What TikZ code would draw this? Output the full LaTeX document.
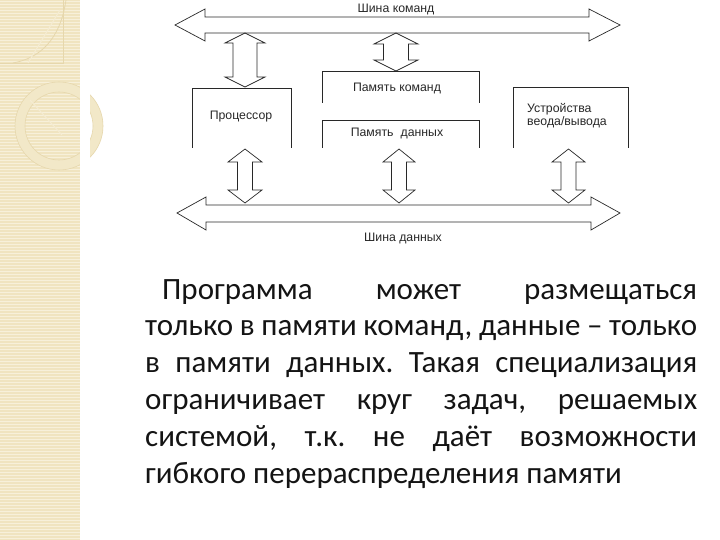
\documentclass[tikz,border=0pt]{standalone}
\usepackage{fontspec}
\setmainfont{Carlito}
\newfontfamily\arialf{Liberation Sans}
\frenchspacing
\definecolor{strip}{RGB}{240,228,192}
\definecolor{stripline}{RGB}{247,240,218}
\definecolor{ringc}{RGB}{230,215,172}
\definecolor{ink}{RGB}{40,40,40}
\definecolor{txt}{RGB}{20,20,20}
\newcommand\vdarrow[6]{%
  \pgfmathsetmacro\ax{#1+#5}\pgfmathsetmacro\bx{#1+#4}%
  \pgfmathsetmacro\cx{#1-#4}\pgfmathsetmacro\dx{#1-#5}%
  \pgfmathsetmacro\ty{#2+#6}\pgfmathsetmacro\by{#3-#6}%
  \draw[blk] (#1,#2) -- (\ax,\ty) -- (\bx,\ty) -- (\bx,\by) -- (\ax,\by) -- (#1,#3)
    -- (\dx,\by) -- (\cx,\by) -- (\cx,\ty) -- (\dx,\ty) -- cycle;}
\tikzset{
  blk/.style={draw=ink, line width=0.7pt, line join=miter},
  boxline/.style={draw=ink, line width=0.7pt},
  lbl/.style={text=ink, inner sep=0pt, font=\arialf\fontsize{12.3}{14.5}\selectfont},
  pline/.style={anchor=base west, inner sep=0pt, text=txt, font=\fontsize{31}{37}\selectfont},
}
\begin{document}
\begin{tikzpicture}[x=1pt,y=-1pt]
\useasboundingbox (0,0) rectangle (720,540);
\fill[white] (0,0) rectangle (720,540);
% decorative strip
\fill[strip] (0,0) rectangle (80,540);
\foreach \yy in {1.5,4.5,...,540} \draw[stripline, line width=0.7pt] (0,\yy) -- (80,\yy);
\draw[ringc, line width=0.6pt] (0,63) -- (63,63) -- (63,0);
\draw[ringc, line width=0.8pt] (66,0) .. controls (60,40) and (40,58) .. (13,63);
\draw[stripline!70!strip, line width=1pt] (28,63) -- (60,10);
\fill[stripline!30!strip, even odd rule] (59,126) circle (44) (59,126) circle (34);
\draw[ringc, line width=0.6pt] (59,126) circle (44) (59,126) circle (34);
\draw[stripline!70!strip, line width=1pt] (30,100) -- (62,135);
\fill[white] (80,0) rectangle (90,540);

% buses
\draw[blk] (175,25) -- (205,9) -- (205,17) -- (589,17) -- (589,9) -- (620,25) -- (589,41) -- (589,33) -- (205,33) -- (205,41) -- cycle;
\draw[blk] (177,213) -- (206,197) -- (206,205) -- (591,205) -- (591,197) -- (620,213) -- (591,230) -- (591,222) -- (206,222) -- (206,230) -- cycle;

% vertical double arrows
\vdarrow{245}{33}{87}{12}{20}{10}
\vdarrow{396}{33}{71}{12.5}{22}{11}
\vdarrow{245}{149}{203}{7.5}{17}{13}
\vdarrow{399}{149}{203}{7.5}{16}{13}
\vdarrow{568.5}{149}{203}{7.5}{16.5}{13}

% open boxes
\draw[boxline] (192,148) -- (192,88) -- (291,88) -- (291,148);
\draw[boxline] (322,103) -- (322,71) -- (479,71) -- (479,103);
\draw[boxline] (322,148) -- (322,120) -- (479,120) -- (479,148);
\draw[boxline] (513,148) -- (513,87) -- (628,87) -- (628,148);

% labels
\node[lbl] (cbus) at (396,9) {Шина команд};
\node[lbl] (cpu) at (241,117) {Процессор};
\node[lbl] (imem) at (397,88) {Память команд};
\node[lbl] (dmem) at (397,133) {Память\hspace{7pt}данных};
\node[lbl, anchor=west, align=left] (io) at (527,116) {Устройства\\[-1.5pt]веода/вывода};
\node[lbl] (dbus) at (403,238) {Шина данных};

% paragraph
\node[pline] (l1) at (162,299) {\makebox[535pt][s]{Программа может размещаться}};
\node[pline] (l2) at (145,335.8) {\makebox[552pt][s]{только в памяти команд, данные – только}};
\node[pline] (l3) at (145,372.6) {\makebox[552pt][s]{в памяти данных. Такая специализация}};
\node[pline] (l4) at (145,409.4) {\makebox[552pt][s]{ограничивает круг задач, решаемых}};
\node[pline] (l5) at (145,446.2) {\makebox[552pt][s]{системой, т.к. не даёт возможности}};
\node[pline] (l6) at (145,483) {гибкого перераспределения памяти};
\end{tikzpicture}
\end{document}
